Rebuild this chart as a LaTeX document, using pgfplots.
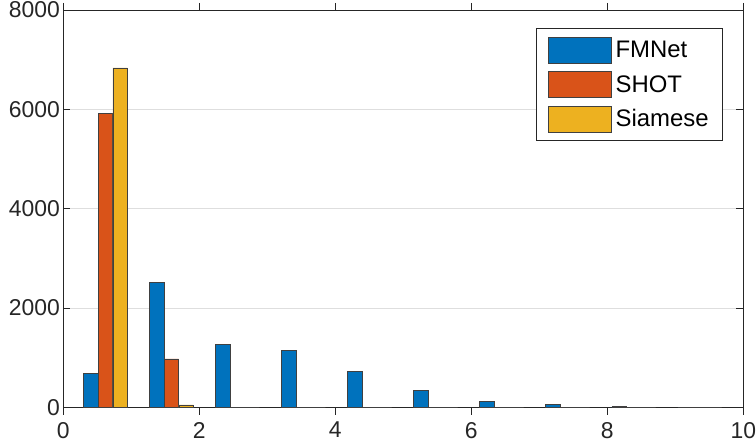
\documentclass[border=0pt]{standalone}
\usepackage{pgfplots}
\pgfplotsset{compat=1.18}
\usepackage{fontspec}
\setmainfont{Liberation Sans}
\definecolor{c1}{rgb}{0,0.447,0.741}
\definecolor{c2}{rgb}{0.85,0.325,0.098}
\definecolor{c3}{rgb}{0.929,0.694,0.125}
\definecolor{axc}{rgb}{0.15,0.15,0.15}
\begin{document}
\begin{tikzpicture}
\begin{axis}[
  scale only axis, width=680bp, height=397.7bp,
  at={(0,0)}, anchor=south west,
  xmin=0, xmax=10, ymin=0, ymax=8000,
  xtick={0,2,...,10}, ytick={0,2000,...,8000},
  ymajorgrids, grid style={black!13, line width=0.6bp},
  tick align=inside, major tick length=7bp,
  axis line style={axc, line width=0.6bp},
  tick style={axc, line width=0.6bp},
  ticklabel style={font=\fontsize{23}{25}\selectfont, color=axc},
  /pgf/number format/assume math mode=true,
  scaled y ticks=false,
  yticklabel style={/pgf/number format/1000 sep={}, inner ysep=0pt},
  xticklabel style={inner sep=0pt, yshift=-7.5bp},
  ybar=0pt, bar width=0.213,
  legend style={at={(axis description cs:0.970,0.953)}, anchor=north east,
    draw=axc, line width=0.6bp, font=\fontsize{24}{26}\selectfont,
    row sep=8bp, column sep=2bp, inner xsep=12bp, inner ysep=8bp,
    nodes={inner sep=2bp}},
  legend cell align=left,
  legend image code/.code={\draw[#1] (0bp,-13bp) rectangle (63bp,13bp);},
]
\addplot[fill=c1, draw=black!75, line width=0.5bp, bar shift=-0.216] coordinates {
(0.62,690) (1.591,2513) (2.562,1266) (3.533,1146) (4.504,724) (5.475,342) (6.446,121) (7.417,60) (8.388,20) (9.359,5)};
\addplot[fill=c2, draw=black!75, line width=0.5bp, bar shift=0] coordinates {
(0.62,5916) (1.591,979) (2.562,5) (3.533,0) (4.504,0) (5.475,0) (6.446,0) (7.417,0) (8.388,0) (9.359,0)};
\addplot[fill=c3, draw=black!75, line width=0.5bp, bar shift=0.216] coordinates {
(0.62,6834) (1.591,54) (2.562,0) (3.533,0) (4.504,0) (5.475,0) (6.446,0) (7.417,0) (8.388,0) (9.359,0)};
\legend{FMNet, SHOT, Siamese}
\end{axis}
\pgfresetboundingbox
\path[use as bounding box] (-63.3bp,-35.5bp) rectangle (692.7bp,407.5bp);
\end{tikzpicture}
\end{document}
